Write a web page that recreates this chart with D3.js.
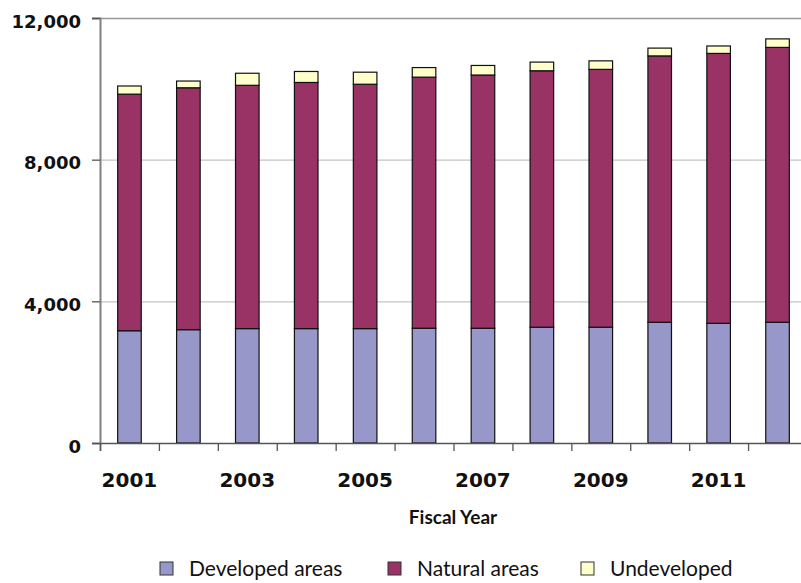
<!DOCTYPE html>
<html lang="en">
<head>
<meta charset="UTF-8" />
<title>Fiscal Year areas</title>
<script src="https://cdn.jsdelivr.net/npm/d3@7"></script>
<style>
  body { margin: 0; background: #fff; }
  svg { display: block; }
</style>
</head>
<body>
<script>
  var years = ["2001", "2002", "2003", "2004", "2005", "2006", "2007", "2008", "2009", "2010", "2011", "2012"];
  var developed = [3170, 3200, 3230, 3230, 3230, 3240, 3240, 3270, 3270, 3410, 3380, 3410];
  var natural = [6680, 6830, 6870, 6950, 6900, 7090, 7150, 7240, 7280, 7520, 7620, 7760];
  var undeveloped = [230, 190, 340, 310, 340, 270, 270, 245, 240, 220, 210, 240];
  var yTicks = [0, 4000, 8000, 12000];
  var seriesNames = ["Developed areas", "Natural areas", "Undeveloped"];
  var seriesColors = ["#9797c9", "#993366", "#ffffcc"];

  var w = 801, h = 583,
    plotLeft = 100, plotRight = 807, plotTop = 18, plotBottom = 443;

  var svg = d3.select("body").append("svg")
    .attr("width", w)
    .attr("height", h);

  var rows = years.map(function(y, i) {
    return { year: y, dev: developed[i], nat: natural[i], und: undeveloped[i] };
  });
  var stack = d3.stack().keys(["dev", "nat", "und"])(rows);

  var xScale = d3.scaleBand()
    .domain(years)
    .range([plotLeft, plotRight])
    .paddingInner(0.6)
    .paddingOuter(0.3);

  // boundaries between categories, where the ticks sit
  var xEdge = d3.scaleLinear().domain([0, years.length]).range([plotLeft, plotRight]);

  var yScale = d3.scaleLinear()
    .domain([0, 12000])
    .range([plotBottom, plotTop]);

  // gridlines
  svg.append("g")
    .selectAll("line")
    .data(yTicks.slice(1))
    .enter()
    .append("line")
    .attr("x1", plotLeft)
    .attr("x2", w)
    .attr("y1", function(d) { return yScale(d) + 0.5 })
    .attr("y2", function(d) { return yScale(d) + 0.5 })
    .attr("stroke", function(d) { return d === 12000 ? "#999" : "#c4c4c4" })
    .attr("stroke-width", 1.3);

  // bars
  svg.append("g")
    .selectAll("g")
    .data(stack)
    .enter()
    .append("g")
    .attr("fill", function(d, i) { return seriesColors[i] })
    .selectAll("rect")
    .data(function(d) { return d })
    .enter()
    .append("rect")
    .attr("x", function(d) { return xScale(d.data.year) })
    .attr("y", function(d) { return yScale(d[1]) })
    .attr("width", xScale.bandwidth())
    .attr("height", function(d) { return yScale(d[0]) - yScale(d[1]) })
    .attr("stroke", "#111")
    .attr("stroke-width", 1.2);

  // y axis
  var yAxis = d3.axisLeft()
    .scale(yScale)
    .tickValues(yTicks)
    .tickSize(8)
    .tickPadding(11)
    .tickFormat(d3.format(","));

  var gy = svg.append("g")
    .attr("transform", "translate(" + plotLeft + ",0)")
    .call(yAxis);
  gy.select(".domain").attr("stroke", "#808080").attr("stroke-width", 2);
  gy.selectAll(".tick line").attr("stroke", "#555").attr("stroke-width", 1.3);
  gy.selectAll(".tick text")
    .attr("dy", "0.5em")
    .style("font-family", "DejaVu Sans, Verdana, sans-serif")
    .style("font-weight", "bold")
    .style("font-size", "18px")
    .attr("fill", "#111");

  // x axis
  var xAxis = d3.axisBottom()
    .scale(xEdge)
    .tickValues(d3.range(0, years.length + 1))
    .tickSize(8)
    .tickFormat("");

  var gx = svg.append("g")
    .attr("transform", "translate(0," + plotBottom + ")")
    .call(xAxis);
  gx.select(".domain").attr("stroke", "#555").attr("stroke-width", 1.5);
  gx.selectAll(".tick line").attr("stroke", "#555").attr("stroke-width", 1.3);

  svg.append("g")
    .selectAll("text")
    .data(years.filter(function(d, i) { return i % 2 === 0 }))
    .enter()
    .append("text")
    .attr("x", function(d) { return xScale(d) + xScale.bandwidth() / 2 })
    .attr("y", 487)
    .attr("text-anchor", "middle")
    .style("font-family", "DejaVu Sans, Verdana, sans-serif")
    .style("font-weight", "bold")
    .style("font-size", "20px")
    .attr("fill", "#111")
    .text(function(d) { return d });

  svg.append("text")
    .attr("x", 453)
    .attr("y", 524)
    .attr("text-anchor", "middle")
    .style("font-family", "Lato, sans-serif")
    .style("font-weight", "bold")
    .style("font-size", "19px")
    .attr("fill", "#111")
    .text("Fiscal Year");

  // legend
  var legendX = [160, 388, 581];
  var legend = svg.append("g")
    .selectAll("g")
    .data(seriesNames)
    .enter()
    .append("g")
    .attr("transform", function(d, i) { return "translate(" + legendX[i] + ",562)" });

  legend.append("rect")
    .attr("width", 13)
    .attr("height", 13)
    .attr("fill", function(d, i) { return seriesColors[i] })
    .attr("stroke", "#333")
    .attr("stroke-width", 1);

  legend.append("text")
    .attr("x", 29)
    .attr("y", 14)
    .style("font-family", "Lato, sans-serif")
    .style("font-size", "21px")
    .attr("fill", "#111")
    .text(function(d) { return d });
</script>
</body>
</html>
